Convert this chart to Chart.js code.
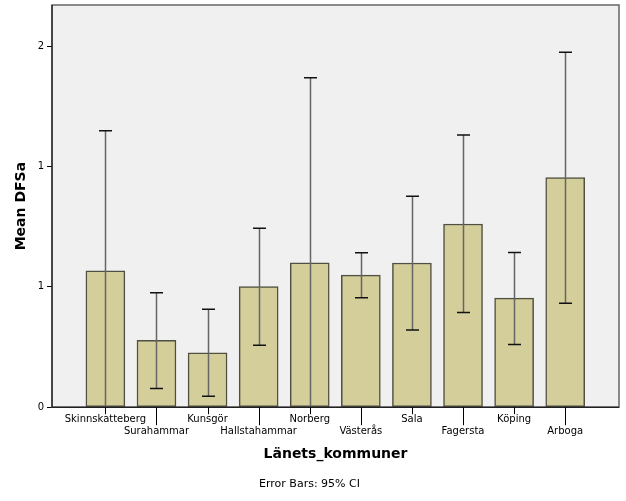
<!DOCTYPE html>
<html>
<head>
<meta charset="utf-8">
<script src="https://cdn.jsdelivr.net/npm/chart.js@4/dist/chart.umd.min.js"></script>
<style>
  body { margin: 0; background: #fff; }
</style>
</head>
<body>
<canvas id="dfsaChart" width="626" height="501"></canvas>
<script>
// data
const kommuner = ['Skinnskatteberg', 'Surahammar', 'Kunsgör', 'Hallstahammar', 'Norberg',
                  'Västerås', 'Sala', 'Fagersta', 'Köping', 'Arboga'];
const meanDFSa = [0.567, 0.278, 0.226, 0.501, 0.600, 0.549, 0.599, 0.761, 0.453, 0.954];
const ciLower  = [-0.10, 0.078, 0.045, 0.257, -0.10, 0.455, 0.321, 0.393, 0.261, 0.432];
const ciUpper  = [1.149, 0.475, 0.407, 0.743, 1.369, 0.642, 0.876, 1.131, 0.643, 1.475];
const yTicks   = [0, 0.5, 1, 1.5];

const FONT = 'DejaVu Sans';

// plot background + frame
const framePlugin = {
    id: 'frame',
    beforeDraw(chart) {
        const { ctx, chartArea: a } = chart;
        ctx.save();
        ctx.fillStyle = '#f0f0f0';
        ctx.fillRect(a.left, a.top, a.right - a.left, a.bottom - a.top);
        ctx.restore();
    },
    afterDraw(chart) {
        const { ctx, chartArea: a } = chart;
        ctx.save();
        ctx.strokeStyle = '#666';
        ctx.lineWidth = 1.5;
        ctx.strokeRect(a.left, a.top, a.right - a.left, a.bottom - a.top);
        ctx.strokeStyle = '#000';
        ctx.lineWidth = 1;
        ctx.beginPath();
        ctx.moveTo(a.left, a.top);
        ctx.lineTo(a.left, a.bottom);
        ctx.lineTo(a.right, a.bottom);
        ctx.stroke();
        // x tick marks, alternating short / long
        const xs = chart.scales.x;
        kommuner.forEach((k, i) => {
            const x = Math.round(xs.getPixelForValue(i)) + 0.5;
            ctx.beginPath();
            ctx.moveTo(x, a.bottom);
            ctx.lineTo(x, a.bottom + (i % 2 ? 18 : 7));
            ctx.stroke();
        });
        ctx.restore();
    }
};

// 95% CI error bars
const errorBarPlugin = {
    id: 'errorBars',
    afterDatasetsDraw(chart) {
        const { ctx, chartArea: a } = chart;
        const ys = chart.scales.y;
        const bars = chart.getDatasetMeta(0).data;
        ctx.save();
        ctx.beginPath();
        ctx.rect(a.left, a.top, a.right - a.left, a.bottom - a.top);
        ctx.clip();
        bars.forEach((bar, i) => {
            const x = Math.round(bar.x) + 0.5;
            const yHi = ys.getPixelForValue(ciUpper[i]);
            const yLo = ys.getPixelForValue(ciLower[i]);
            ctx.strokeStyle = '#666';
            ctx.lineWidth = 1.5;
            ctx.beginPath();
            ctx.moveTo(x, yHi);
            ctx.lineTo(x, yLo);
            ctx.stroke();
            ctx.strokeStyle = '#111';
            ctx.beginPath();
            ctx.moveTo(x - 6.5, yHi);
            ctx.lineTo(x + 6.5, yHi);
            if (ciLower[i] > 0) {
                ctx.moveTo(x - 6.5, yLo);
                ctx.lineTo(x + 6.5, yLo);
            }
            ctx.stroke();
        });
        ctx.restore();
    }
};

new Chart(document.getElementById('dfsaChart'), {
    type: 'bar',
    data: {
        datasets: [{
            data: meanDFSa.map((v, i) => ({ x: i, y: v })),
            backgroundColor: '#d3ce9a',
            borderColor: '#4f4f42',
            borderWidth: 1.5,
            borderSkipped: false,
            barThickness: 39
        }]
    },
    options: {
        responsive: false,
        animation: false,
        layout: { padding: { left: 0, right: 7, top: 5, bottom: 0 } },
        plugins: {
            legend: { display: false },
            tooltip: { enabled: false },
            subtitle: {
                display: true,
                position: 'bottom',
                text: 'Error Bars: 95% CI',
                color: '#000',
                font: { family: FONT, size: 11, weight: 'normal' },
                padding: { top: 6, bottom: 10 }
            }
        },
        scales: {
            x: {
                type: 'linear',
                offset: false,
                min: -1.045,
                max: 10.053,
                grid: { display: false, drawTicks: false },
                border: { display: false },
                afterBuildTicks: (scale) => {
                    scale.ticks = kommuner.map((k, i) => ({ value: i }));
                },
                afterFit: (scale) => {
                    scale.height = 64.6;
                    scale.paddingLeft = 0;
                    scale.paddingRight = 0;
                },
                ticks: {
                    autoSkip: false,
                    maxRotation: 0,
                    padding: 6,
                    color: '#000',
                    font: { family: FONT, size: 10, lineHeight: 1.2 },
                    callback: (v) => (v % 2 ? ['', kommuner[v]] : kommuner[v])
                },
                title: {
                    display: true,
                    text: 'Länets_kommuner',
                    color: '#000',
                    font: { family: FONT, size: 14, weight: 'bold' },
                    padding: { top: 0, bottom: 9 }
                }
            },
            y: {
                min: 0,
                max: 1.671,
                grid: { drawOnChartArea: false, drawTicks: true, tickLength: 5, color: '#000' },
                border: { display: false },
                afterBuildTicks: (scale) => {
                    scale.ticks = yTicks.map(v => ({ value: v }));
                },
                afterFit: (scale) => {
                    scale.width = 52;
                    scale.paddingTop = 0;
                    scale.paddingBottom = 0;
                },
                ticks: {
                    padding: 3,
                    color: '#000',
                    font: { family: FONT, size: 10 },
                    callback: (v) => Math.round(v)
                },
                title: {
                    display: true,
                    text: 'Mean DFSa',
                    color: '#000',
                    font: { family: FONT, size: 14, weight: 'bold' },
                    padding: { top: 13 }
                }
            }
        }
    },
    plugins: [framePlugin, errorBarPlugin]
});
</script>
</body>
</html>
